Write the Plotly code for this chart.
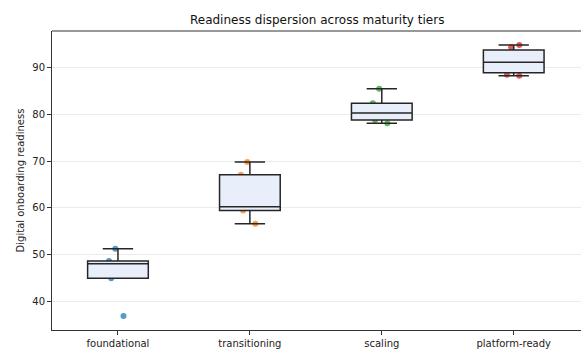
import numpy as np
import plotly.graph_objects as go

categories = ["foundational", "transitioning", "scaling", "platform-ready"]
foundational = [36.8, 44.9, 48.0, 48.6, 51.2]
transitioning = [56.6, 59.4, 60.2, 67.1, 69.8]
scaling = [78.1, 78.8, 80.3, 82.4, 85.5]
platform_ready = [88.3, 88.5, 90.4, 92.0, 94.4, 94.9]
point_colors = ["#1f77b4", "#ff7f0e", "#2ca02c", "#d62728"]
y_ticks = [40, 50, 60, 70, 80, 90]

series = [foundational, transitioning, scaling, platform_ready]

fig = go.Figure()

# jittered points (drawn first so boxes sit above them)
for cat, vals, col in zip(categories, series, point_colors):
    fig.add_trace(go.Box(
        x=[cat] * len(vals), y=vals,
        boxpoints="all", jitter=0.35, pointpos=0,
        marker=dict(color=col, size=6, opacity=0.75),
        line=dict(width=0), fillcolor="rgba(0,0,0,0)",
        width=0.46, showlegend=False, hoverinfo="y",
    ))

# box statistics (numpy linear percentiles, 1.5*IQR whiskers)
q1s, meds, q3s, lows, highs = [], [], [], [], []
for vals in series:
    a = np.asarray(vals)
    q1, med, q3 = np.percentile(a, [25, 50, 75])
    iqr = q3 - q1
    lo = a[a >= q1 - 1.5 * iqr].min()
    hi = a[a <= q3 + 1.5 * iqr].max()
    q1s.append(q1); meds.append(med); q3s.append(q3)
    lows.append(lo); highs.append(hi)

fig.add_trace(go.Box(
    x=categories, q1=q1s, median=meds, q3=q3s,
    lowerfence=lows, upperfence=highs, boxpoints=False,
    fillcolor="#e8effb", line=dict(color="#262626", width=1.5),
    width=0.46, whiskerwidth=0.5, showlegend=False,
))

# top spine of the frame
fig.add_shape(type="line", xref="paper", yref="paper",
              x0=0, x1=1, y0=1, y1=1,
              line=dict(color="#333", width=1))

fig.update_layout(
    template="none",
    width=582, height=351,
    margin=dict(l=52, r=1, t=31, b=21, pad=0),
    paper_bgcolor="white", plot_bgcolor="white",
    boxmode="overlay",
    font=dict(family="DejaVu Sans", size=10, color="#222"),
    title=dict(text="Readiness dispersion across maturity tiers",
               x=0.545, xanchor="center", y=0.945, yanchor="middle",
               font=dict(size=12, color="#111")),
    xaxis=dict(
        type="category", categoryorder="array", categoryarray=categories,
        range=[-0.5, 3.51], showgrid=False, zeroline=False,
        showline=True, linecolor="#333", linewidth=1, mirror=False,
        ticks="outside", ticklen=4, tickcolor="#333",
        tickfont=dict(size=10, color="#222"),
    ),
    yaxis=dict(
        range=[33.8, 97.9], tickvals=y_ticks,
        showgrid=True, gridcolor="#ebebeb", gridwidth=1, zeroline=False,
        showline=True, linecolor="#333", linewidth=1, mirror=False,
        ticks="outside", ticklen=4, tickcolor="#333",
        tickfont=dict(size=10, color="#222"),
        title=dict(text="Digital onboarding readiness", standoff=5,
                   font=dict(size=10, color="#222")),
    ),
)

fig.write_html("out.html")
